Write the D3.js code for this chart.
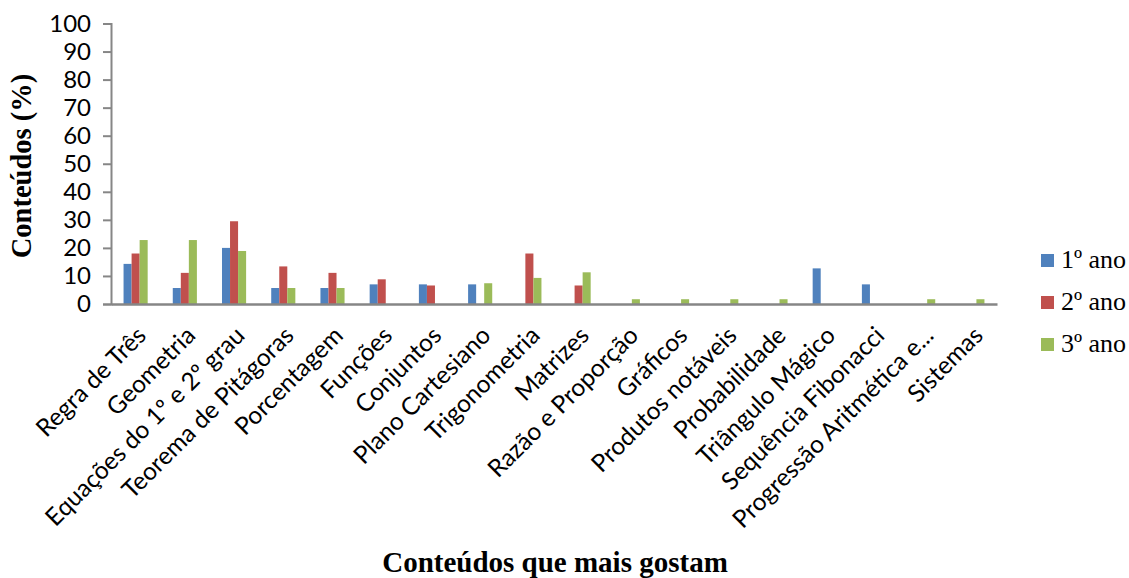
<!DOCTYPE html>
<html>
<head>
<meta charset="utf-8">
<script src="https://cdn.jsdelivr.net/npm/d3@7"></script>
<style>
  html, body { margin: 0; padding: 0; background: #fff; }
  svg { display: block; }
</style>
</head>
<body>
<svg id="chart" width="1129" height="578"></svg>
<script>
const categories = ["Regra de Três","Geometria","Equações do 1º e 2º grau","Teorema de Pitágoras","Porcentagem","Funções","Conjuntos","Plano Cartesiano","Trigonometria","Matrizes","Razão e Proporção","Gráficos","Produtos notáveis","Probabilidade","Triângulo Mágico","Sequência Fibonacci","Progressão Aritmética e...","Sistemas"];
const seriesNames = ["1º ano","2º ano","3º ano"];
const ano1 = [14.3,5.7,20.0,5.7,5.7,7.0,7.0,7.0,0,0,0,0,0,0,12.7,7.0,0,0];
const ano2 = [18.0,11.1,29.5,13.4,11.1,8.8,6.6,0,18.0,6.6,0,0,0,0,0,0,0,0];
const ano3 = [22.8,22.8,18.9,5.7,5.7,0,0,7.4,9.3,11.3,1.7,1.7,1.7,1.7,0,0,1.7,1.7];
const yTicks = [0,10,20,30,40,50,60,70,80,90,100];
const colors = ["#4F81BD","#C0504D","#9BBB59"];
const yTitle = "Conteúdos (%)";
const xTitle = "Conteúdos que mais gostam";

(function () {
const series = [ano1, ano2, ano3];
const svg = d3.select("#chart");

const mLeft = 111, mRight = 997, mTop = 23.5, mBottom = 304;
const x = d3.scaleBand().domain(categories).range([mLeft, mRight]).padding(0);
const bw = x.bandwidth();
const x1 = d3.scaleBand().domain(seriesNames).range([bw * 0.255, bw * 0.745]).padding(0);
const y = d3.scaleLinear().domain([0, 100]).range([mBottom, mTop]);

// bars
seriesNames.forEach((s, si) => {
  svg.append("g").selectAll("rect")
    .data(categories.map((c, i) => ({c, v: series[si][i]})).filter(d => d.v > 0))
    .join("rect")
    .attr("x", d => x(d.c) + x1(s))
    .attr("y", d => y(d.v))
    .attr("width", x1.bandwidth())
    .attr("height", d => y(0) - y(d.v))
    .attr("fill", colors[si]);
});

// y axis
const yAxis = d3.axisLeft(y).tickValues(yTicks).tickSize(8).tickPadding(12).tickFormat(d3.format("d"));
const gy = svg.append("g").attr("transform", `translate(${mLeft},0)`).call(yAxis);
gy.select(".domain").attr("stroke", "#868686").attr("stroke-width", 2);
gy.selectAll(".tick line").attr("stroke", "#868686").attr("stroke-width", 2);
gy.selectAll(".tick text").attr("font-family", "Lato, sans-serif").attr("font-size", 24).attr("fill", "#000");

// x axis
const xAxis = d3.axisBottom(x).tickSize(0).tickSizeOuter(0);
const gx = svg.append("g").attr("transform", `translate(0,${mBottom})`).call(xAxis);
gx.select(".domain").attr("stroke", "#868686").attr("stroke-width", 2.5);
gx.selectAll(".tick text")
  .attr("font-family", "Lato, sans-serif").attr("font-size", 24.5).attr("fill", "#000")
  .attr("text-anchor", "end")
  .attr("dy", null).attr("y", null)
  .attr("transform", "translate(12,33) rotate(-45)");

// axis titles
svg.append("text")
  .attr("transform", "translate(31,166) rotate(-90)")
  .attr("text-anchor", "middle")
  .attr("font-family", "'Liberation Serif', 'Times New Roman', serif")
  .attr("font-weight", "bold").attr("font-size", 28.5)
  .text(yTitle);

svg.append("text")
  .attr("x", 555).attr("y", 572)
  .attr("text-anchor", "middle")
  .attr("font-family", "'Liberation Serif', 'Times New Roman', serif")
  .attr("font-weight", "bold").attr("font-size", 29)
  .text(xTitle);

// legend
const lg = svg.append("g").attr("transform", "translate(1041,254)");
seriesNames.forEach((s, i) => {
  const g = lg.append("g").attr("transform", `translate(0,${i * 42})`);
  g.append("rect").attr("width", 13).attr("height", 13).attr("fill", colors[i]);
  g.append("text").attr("x", 20).attr("y", 14)
    .attr("font-family", "'Liberation Serif', 'Times New Roman', serif")
    .attr("font-size", 26).text(s);
});
})();
</script>
</body>
</html>
